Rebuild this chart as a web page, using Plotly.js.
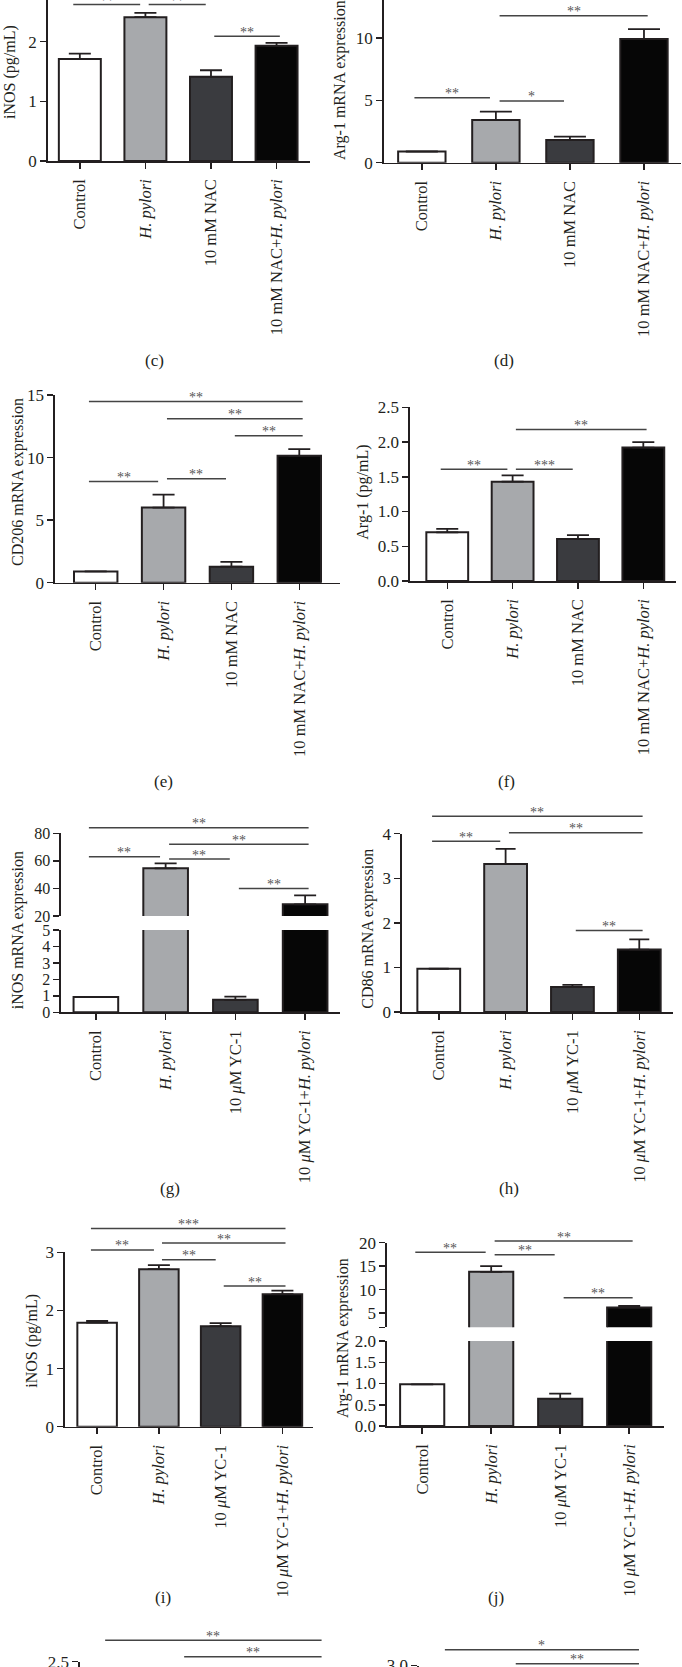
<!DOCTYPE html>
<html>
<head>
<meta charset="utf-8">
<script src="https://cdn.plot.ly/plotly-3.0.1.min.js"></script>
<style>
  html, body { margin: 0; padding: 0; background: #fff; }
  #fig { width: 682px; height: 1667px; }
</style>
</head>
<body>
<div id="fig"></div>
<script>
// groups
const catsNAC = ["Control", "<i>H. pylori</i>", "10 mM NAC", "10 mM NAC+<i>H. pylori</i>"];
const catsYC = ["Control", "<i>H. pylori</i>", "10 <i>μ</i>M YC-1", "10 <i>μ</i>M YC-1+<i>H. pylori</i>"];
const groupX = [0, 1, 2, 3];
const barColors = ["#ffffff", "#a7a9ac", "#3a3b3f", "#060606"];

// sig brackets: [from group, to group, height, stars]
// (c) iNOS (pg/mL), NAC
const cMean = [1.71, 2.41, 1.41, 1.93];
const cErr = [0.09, 0.07, 0.11, 0.05];
const cSig = [[0, 1, 2.62, "**"], [1, 2, 2.62, "**"], [2, 3, 2.09, "**"]];

// (d) Arg-1 mRNA, NAC
const dMean = [0.9, 3.42, 1.82, 9.92];
const dErr = [0, 0.67, 0.27, 0.8];
const dSig = [[0, 1, 5.21, "**"], [1, 2, 4.95, "*"], [1, 3, 11.79, "**"]];

// (e) CD206 mRNA, NAC
const eMean = [0.9, 6.0, 1.28, 10.14];
const eErr = [0, 1.04, 0.38, 0.53];
const eSig = [[0, 3, 14.48, "**"], [1, 3, 13.1, "**"], [2, 3, 11.74, "**"], [0, 1, 8.08, "**"], [1, 2, 8.3, "**"]];

// (f) Arg-1 (pg/mL), NAC
const fMean = [0.70, 1.43, 0.605, 1.92];
const fErr = [0.05, 0.09, 0.055, 0.08];
const fSig = [[0, 1, 1.61, "**"], [1, 2, 1.61, "***"], [1, 3, 2.18, "**"]];

// (g) iNOS mRNA, YC-1
const gMean = [0.93, 54.6, 0.76, 28.5];
const gErr = [0, 3.6, 0.19, 6.5];
const gSig = [[0, 3, 84, "**"], [1, 3, 72, "**"], [0, 1, 63, "**"], [1, 2, 61.3, "**"], [2, 3, 40, "**"]];

// (h) CD86 mRNA, YC-1
const hMean = [0.97, 3.32, 0.56, 1.40];
const hErr = [0, 0.34, 0.05, 0.23];
const hSig = [[0, 3, 4.39, "**"], [1, 3, 4.02, "**"], [0, 1, 3.83, "**"], [2, 3, 1.83, "**"]];

// (i) iNOS (pg/mL), YC-1
const iMean = [1.79, 2.71, 1.73, 2.28];
const iErr = [0.03, 0.07, 0.05, 0.06];
const iSig = [[0, 3, 3.41, "***"], [1, 3, 3.16, "**"], [0, 1, 3.04, "**"], [1, 2, 2.87, "**"], [2, 3, 2.42, "**"]];

// (j) Arg-1 mRNA, YC-1
const jMean = [0.98, 13.8, 0.64, 6.2];
const jErr = [0, 1.2, 0.12, 0.35];
const jSig = [[0, 1, 17.95, "**"], [1, 2, 17.45, "**"], [1, 3, 20.35, "**"], [2, 3, 8.3, "**"]];

// (k), (l) only the top edge shows
const kSig = [[0, 3, 2.80, "**"], [1, 3, 2.57, "**"], [0, 1, 2.38, "**"]];
const lSig = [[0, 3, 3.27, "*"], [1, 3, 3.03, "**"], [0, 1, 2.93, "**"]];

const INK = "#231f20";
const FONT = "'Liberation Serif', 'Times New Roman', Times, serif";
const W = 682, H = 1667;
const px2x = p => p / W;
const py2y = p => Math.min(1, Math.max(0, 1 - p / H));

const panels = [
  {label: "(c)", cats: catsNAC, mean: cMean, err: cErr, sig: cSig, title: "iNOS (pg/mL)",
   L: 47.7, R: 310, xr: [-0.49, 3.51], segs: [{B: 161, T: 0, range: [0, 2.697], dtick: 1}],
   titleX: 10, titleY: 72, labelX: 154, labelY: 360, cap: 11},
  {label: "(d)", cats: catsNAC, mean: dMean, err: dErr, sig: dSig, title: "Arg-1 mRNA expression",
   L: 383.7, R: 681, xr: [-0.515, 3.5], segs: [{B: 162.7, T: 0, range: [0, 13.05], dtick: 5}],
   titleX: 340, titleY: 80, labelX: 503.7, labelY: 360, cap: 16},
  {label: "(e)", cats: catsNAC, mean: eMean, err: eErr, sig: eSig, title: "CD206 mRNA expression",
   L: 55, R: 340, xr: [-0.6, 3.6], segs: [{B: 582.7, T: 395, range: [0, 15], dtick: 5}],
   titleX: 18, titleY: 482, labelX: 163, labelY: 781, cap: 11},
  {label: "(f)", cats: catsNAC, mean: fMean, err: fErr, sig: fSig, title: "Arg-1 (pg/mL)",
   L: 410, R: 676, xr: [-0.57, 3.5], segs: [{B: 581, T: 407.3, range: [0, 2.5], dtick: 0.5, fmt: ".1f"}],
   titleX: 362.7, titleY: 492, labelX: 506, labelY: 781, cap: 11},
  {label: "(g)", cats: catsYC, mean: gMean, err: gErr, sig: gSig, title: "iNOS mRNA expression",
   L: 61, R: 340, xr: [-0.5, 3.5], yTick: 16,
   segs: [{B: 1012.3, T: 930, range: [0, 5], dtick: 1}, {B: 916, T: 833.3, range: [20, 80], dtick: 20}],
   titleX: 18.3, titleY: 930, labelX: 170, labelY: 1188, cap: 11},
  {label: "(h)", cats: catsYC, mean: hMean, err: hErr, sig: hSig, title: "CD86 mRNA expression",
   L: 402, R: 672.7, xr: [-0.55, 3.5], segs: [{B: 1012, T: 833.7, range: [0, 4], dtick: 1}],
   titleX: 367.7, titleY: 929, labelX: 509, labelY: 1188, cap: 10},
  {label: "(i)", cats: catsYC, mean: iMean, err: iErr, sig: iSig, title: "iNOS (pg/mL)",
   L: 65, R: 313.3, xr: [-0.52, 3.5], segs: [{B: 1426.7, T: 1252.3, range: [0, 3], dtick: 1}],
   titleX: 31.7, titleY: 1341, labelX: 163, labelY: 1597, cap: 11},
  {label: "(j)", cats: catsYC, mean: jMean, err: jErr, sig: jSig, title: "Arg-1 mRNA expression",
   L: 387, R: 663.7, xr: [-0.51, 3.5],
   segs: [{B: 1426, T: 1341, range: [0, 2], dtick: 0.5, fmt: ".1f"},
          {B: 1327.3, T: 1242.7, range: [2, 20], vals: [2, 5, 10, 15, 20], text: ["", "5", "10", "15", "20"]}],
   titleX: 343, titleY: 1338, labelX: 496, labelY: 1597, cap: 11},
  {label: "", cats: catsNAC, mean: null, sig: kSig, partial: true,
   L: 80, R: 352.5, xr: [-0.466, 3.5],
   segs: [{B: 1667, T: 1661.7, range: [2.5 - 5.3 / 72, 2.5005], vals: [2.5], text: ["2.5"]}]},
  {label: "", cats: catsYC, mean: null, sig: lSig, partial: true,
   L: 419, R: 666.7, xr: [-0.52, 3.5],
   segs: [{B: 1667, T: 1665.5, range: [3.0 - 1.5 / 60, 3.0005], vals: [3.0], text: ["3.0"]}]}
];

let nx = 0, ny = 0;
function newAxis(letter) {
  const n = letter === "x" ? ++nx : ++ny;
  const suf = n === 1 ? "" : String(n);
  return {id: letter + suf, key: letter + "axis" + suf};
}

const data = [];
const layout = {
  width: W, height: H,
  margin: {l: 0, r: 0, t: 0, b: 0},
  paper_bgcolor: "#ffffff",
  plot_bgcolor: "rgba(0,0,0,0)",
  showlegend: false,
  font: {family: FONT, color: INK, size: 16},
  annotations: []
};

panels.forEach(function(p) {
  const xa = newAxis("x");
  const ya = p.segs.map(() => newAxis("y"));
  const sa = newAxis("y");

  layout[xa.key] = {
    domain: [px2x(p.L), px2x(p.R)], range: p.xr, anchor: ya[0].id,
    tickvals: groupX, ticktext: p.cats, tickangle: -90,
    showticklabels: !p.partial, ticks: p.partial ? "" : "outside",
    ticklen: 6, tickwidth: 1.5, tickcolor: INK, ticklabelstandoff: 4,
    showline: !p.partial, linecolor: INK, linewidth: 1.6,
    showgrid: false, zeroline: false, fixedrange: true,
    tickfont: {size: 16.5, family: FONT, color: INK}
  };

  p.segs.forEach(function(s, k) {
    const ax = {
      domain: [py2y(s.B), py2y(s.T)], range: s.range, anchor: xa.id,
      ticks: "outside", ticklen: 6, tickwidth: 1.5, tickcolor: INK,
      showline: true, linecolor: INK, linewidth: 1.6,
      showgrid: false, zeroline: false, fixedrange: true,
      ticklabeloverflow: "allow",
      tickfont: {size: p.yTick || 17, family: FONT, color: INK}
    };
    if (s.vals) { ax.tickmode = "array"; ax.tickvals = s.vals; ax.ticktext = s.text; }
    else { ax.tick0 = 0; ax.dtick = s.dtick; }
    if (s.fmt) ax.tickformat = s.fmt;
    layout[ya[k].key] = ax;

    if (p.mean) {
      data.push({
        type: "bar", x: groupX, y: p.mean, width: 0.64,
        xaxis: xa.id, yaxis: ya[k].id,
        marker: {color: barColors, line: {color: INK, width: 2}},
        error_y: {type: "data", symmetric: false, array: p.err, arrayminus: p.err.map(() => 0),
                  color: INK, thickness: 1.8, width: p.cap},
        hoverinfo: "skip"
      });
    } else {
      // bars are below the page edge; an empty trace keeps the axis pair alive
      data.push({type: "scatter", mode: "markers", x: [], y: [], xaxis: xa.id, yaxis: ya[k].id, hoverinfo: "skip"});
    }
  });

  // invisible axis with the same scale as the top segment, reaching higher, for the brackets
  const top = p.segs[p.segs.length - 1];
  const ppu = (top.B - top.T) / (top.range[1] - top.range[0]);
  const sigTopPx = Math.max(0, top.T - 50);
  layout[sa.key] = {
    domain: [py2y(top.B), py2y(sigTopPx)],
    range: [top.range[0], top.range[0] + (top.B - sigTopPx) / ppu],
    anchor: xa.id, visible: false, fixedrange: true
  };

  const lx = [], ly = [];
  p.sig.forEach(function(b) {
    const x0 = b[0] === 0 ? -0.1 : b[0] + 0.05;
    const x1 = b[1] === 3 ? 3.05 : b[1] - 0.08;
    lx.push(x0, x1, null);
    ly.push(b[2], b[2], null);
    layout.annotations.push({
      xref: xa.id, yref: sa.id, x: (x0 + x1) / 2, y: b[2], text: b[3],
      showarrow: false, yanchor: "middle", yshift: 4,
      font: {size: 14, family: FONT, color: "#555"}
    });
  });
  data.push({
    type: "scatter", mode: "lines", x: lx, y: ly, xaxis: xa.id, yaxis: sa.id,
    line: {color: "#444", width: 1.5}, hoverinfo: "skip"
  });

  if (p.title) {
    layout.annotations.push({
      xref: "paper", yref: "paper", x: px2x(p.titleX), y: py2y(p.titleY),
      text: p.title, textangle: -90, showarrow: false,
      xanchor: "center", yanchor: "middle", font: {size: 16, family: FONT, color: INK}
    });
  }
  if (p.label) {
    layout.annotations.push({
      xref: "paper", yref: "paper", x: px2x(p.labelX), y: py2y(p.labelY),
      text: p.label, showarrow: false, xanchor: "center", yanchor: "middle",
      font: {size: 17, family: FONT, color: INK}
    });
  }
});

Plotly.newPlot("fig", data, layout, {displayModeBar: false, staticPlot: true});
</script>
</body>
</html>
